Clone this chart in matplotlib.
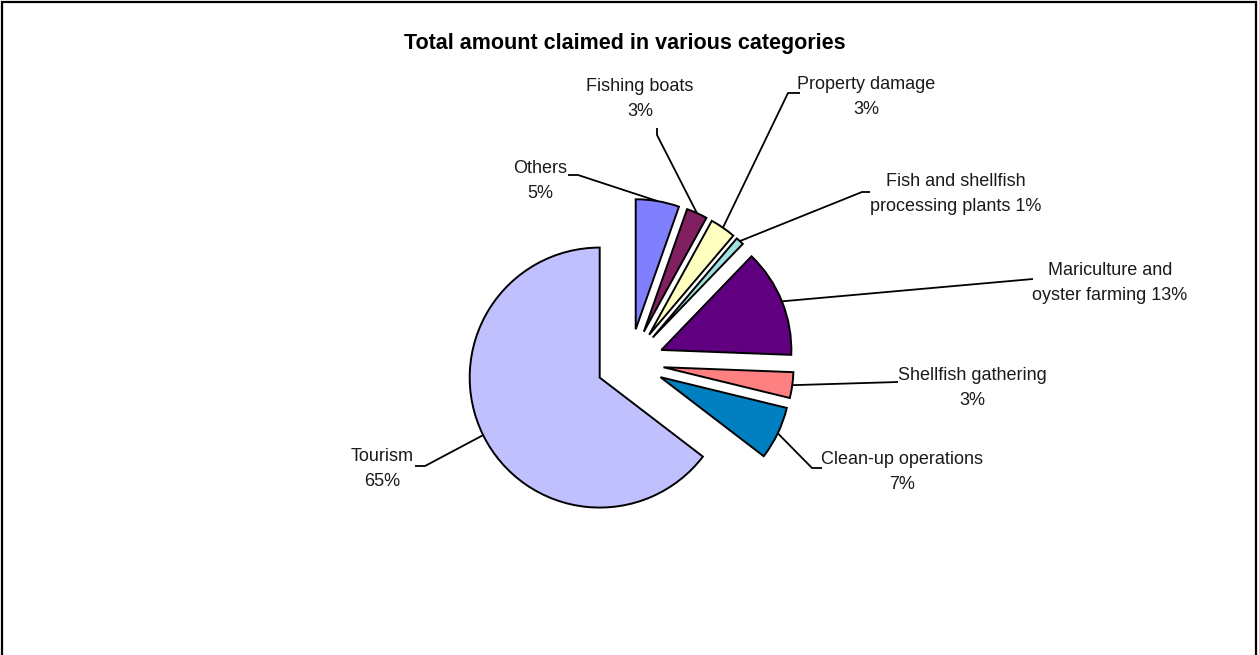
import matplotlib
matplotlib.use("Agg")
import matplotlib.pyplot as plt
import numpy as np
from matplotlib.patches import Rectangle

plt.rcParams["font.family"] = ["Liberation Sans", "DejaVu Sans"]

# Data (shares in %, clockwise from 12 o'clock)
categories = [
    "Others",
    "Fishing boats",
    "Property damage",
    "Fish and shellfish\nprocessing plants",
    "Mariculture and\noyster farming",
    "Shellfish gathering",
    "Clean-up operations",
    "Tourism",
]
shares = [5.4, 2.6, 3.2, 1.0, 13.4, 3.2, 6.6, 64.6]
# separator between name and percentage in each data label
label_sep = ["\n", "\n", "\n", " ", " ", "\n", "\n", "\n"]
colors = ["#8080FF", "#802060", "#FFFFC0", "#A0E0E0",
          "#600080", "#FF8080", "#0080C0", "#C0C0FF"]

# Layout, in pixels of the 1259x655 picture
W, H = 1259, 655
CX, CY, R = 630, 362.6, 130
label_pos = [(540, 181), (640, 99), (866, 97), (956, 194),
             (1110, 283), (972, 388), (902, 472), (382, 469)]
leader_pts = [
    [(568, 175), (578, 175)],
    [(657, 128), (657, 135)],
    [(800, 93), (788, 93)],
    [(870, 192), (862, 192)],
    [(1033, 279)],
    [(898, 382)],
    [(822, 468), (812, 468)],
    [(415, 466), (425, 466)],
]


def px(x, y):
    # picture pixels -> data units (pie radius = 1)
    return (x - CX) / R, (CY - y) / R


fig = plt.figure(figsize=(W / 100, H / 100), dpi=100)
ax = fig.add_axes([0, 0, 1, 1])

wedges, _ = ax.pie(
    shares,
    colors=colors,
    explode=[0.26] * len(shares),
    startangle=90,
    counterclock=False,
    radius=1,
    wedgeprops=dict(edgecolor="black", linewidth=1.4),
)
ax.set_xlim(px(0, 0)[0], px(W, 0)[0])
ax.set_ylim(px(0, H)[1], px(0, 0)[1])
ax.axis("off")

total = sum(shares)
for w, name, sep, val, pos, pts in zip(wedges, categories, label_sep, shares,
                                       label_pos, leader_pts):
    mid = np.deg2rad(0.5 * (w.theta1 + w.theta2))
    edge = (w.center[0] + w.r * np.cos(mid), w.center[1] + w.r * np.sin(mid))
    line = [px(*p) for p in pts] + [edge]
    xs, ys = zip(*line)
    ax.plot(xs, ys, color="black", lw=1.3, solid_capstyle="butt")
    txt = f"{name}{sep}{round(100 * val / total)}%"
    ax.text(*px(*pos), txt, ha="center", va="center", fontsize=13,
            color="#1a1a1a", linespacing=1.65)

ax.text(*px(625, 43), "Total amount claimed in various categories",
        ha="center", va="center", fontsize=15.5, fontweight="bold", color="black")

fig.add_artist(Rectangle((2 / W, -0.05), 1254 / W, (H - 2) / H + 0.05,
                         transform=fig.transFigure, fill=False,
                         edgecolor="black", linewidth=1.6))

fig.savefig("out.png", dpi=100)
